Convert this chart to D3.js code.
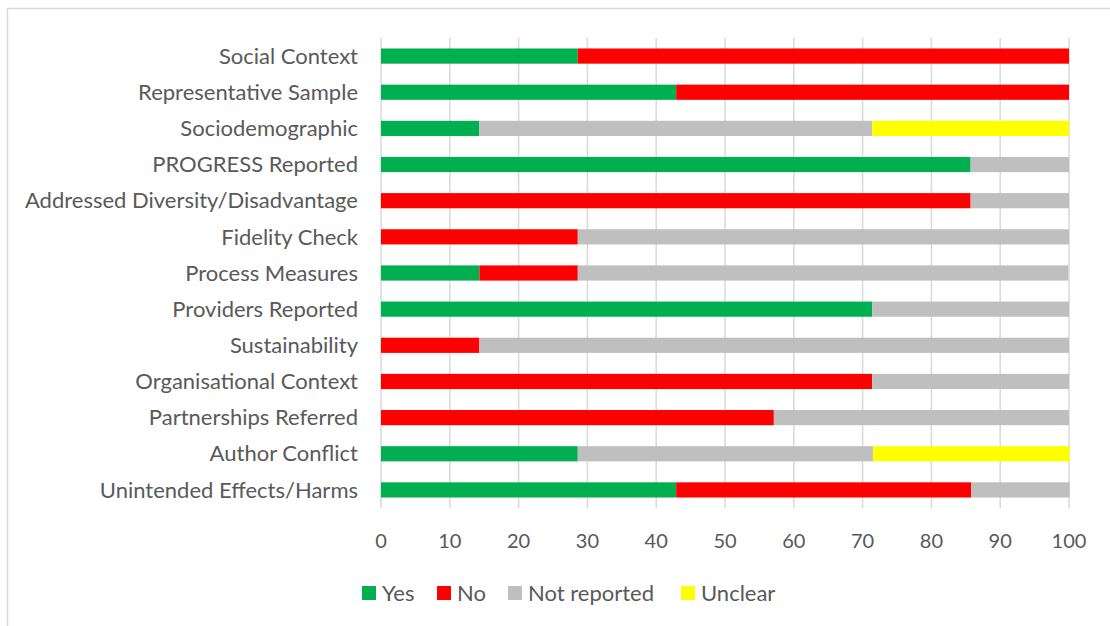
<!DOCTYPE html>
<html>
<head>
<meta charset="utf-8">
<script src="https://cdn.jsdelivr.net/npm/d3@7"></script>
<style>
  body { margin: 0; background: #fff; }
  text { font-family: Lato, "Open Sans", sans-serif; fill: #595959; }
</style>
</head>
<body>
<svg id="chart" width="1110" height="626"></svg>
<script>
// categories top to bottom
var categories = ['Social Context', 'Representative Sample', 'Sociodemographic', 'PROGRESS Reported',
  'Addressed Diversity/Disadvantage', 'Fidelity Check', 'Process Measures', 'Providers Reported',
  'Sustainability', 'Organisational Context', 'Partnerships Referred', 'Author Conflict',
  'Unintended Effects/Harms'];

var series = ['Yes', 'No', 'Not reported', 'Unclear'];
var colors = ['#00B050', '#FF0000', '#BFBFBF', '#FFFF00'];

var yesVals     = [28.6, 42.9, 14.3, 85.7, 0, 0, 14.3, 71.4, 0, 0, 0, 28.6, 42.9];
var noVals      = [71.4, 57.1, 0, 0, 85.7, 28.6, 14.3, 0, 14.3, 71.4, 57.1, 0, 42.9];
var notRepVals  = [0, 0, 57.1, 14.3, 14.3, 71.4, 71.3, 28.6, 85.7, 28.6, 42.9, 42.9, 14.3];
var unclearVals = [0, 0, 28.6, 0, 0, 0, 0, 0, 0, 0, 0, 28.6, 0];

var xTicks = [0, 10, 20, 30, 40, 50, 60, 70, 80, 90, 100];

var rows = categories.map(function(c, i) {
  return { cat: c, 'Yes': yesVals[i], 'No': noVals[i], 'Not reported': notRepVals[i], 'Unclear': unclearVals[i] };
});

var svg = d3.select('#chart');

// outer chart border
svg.append('rect').attr('x', 7.5).attr('y', 8.5).attr('width', 1110).attr('height', 640)
  .attr('fill', 'none').attr('stroke', '#d9d9d9').attr('stroke-width', 1.5);

var x = d3.scaleLinear().domain([0, 100]).range([381, 1069]);
var y = d3.scaleBand().domain(categories).range([38, 508]).paddingInner(0.58).paddingOuter(0.29);

// gridlines
svg.append('g').selectAll('line').data(xTicks).enter().append('line')
  .attr('x1', d => x(d)).attr('x2', d => x(d))
  .attr('y1', 38).attr('y2', 508)
  .attr('stroke', '#d9d9d9').attr('stroke-width', 1.5);

// stacked bars
var stack = d3.stack().keys(series)(rows);
svg.append('g').selectAll('g').data(stack).enter().append('g')
  .attr('fill', (d, i) => colors[i])
  .selectAll('rect').data(d => d).enter().append('rect')
  .attr('x', d => x(d[0]))
  .attr('width', d => Math.max(0, x(d[1]) - x(d[0])))
  .attr('y', d => y(d.data.cat))
  .attr('height', y.bandwidth());

// category labels
svg.append('g').selectAll('text').data(categories).enter().append('text')
  .attr('x', 358).attr('y', d => y(d) + y.bandwidth() / 2)
  .attr('dy', '0.35em').attr('text-anchor', 'end')
  .style('font-size', '22px').text(d => d);

// x axis labels
svg.append('g').selectAll('text').data(xTicks).enter().append('text')
  .attr('x', d => x(d)).attr('y', 541).attr('dy', '0.35em')
  .attr('text-anchor', 'middle').style('font-size', '20px').text(d => d);

// legend
var legendX = [362, 437, 508, 681];
var lg = svg.append('g').selectAll('g').data(series).enter().append('g')
  .attr('transform', (d, i) => 'translate(' + legendX[i] + ',586)');
lg.append('rect').attr('width', 14).attr('height', 14).attr('fill', (d, i) => colors[i]);
lg.append('text').attr('x', 20).attr('y', 7).attr('dy', '0.35em')
  .style('font-size', '22px').text(d => d);
</script>
</body>
</html>
